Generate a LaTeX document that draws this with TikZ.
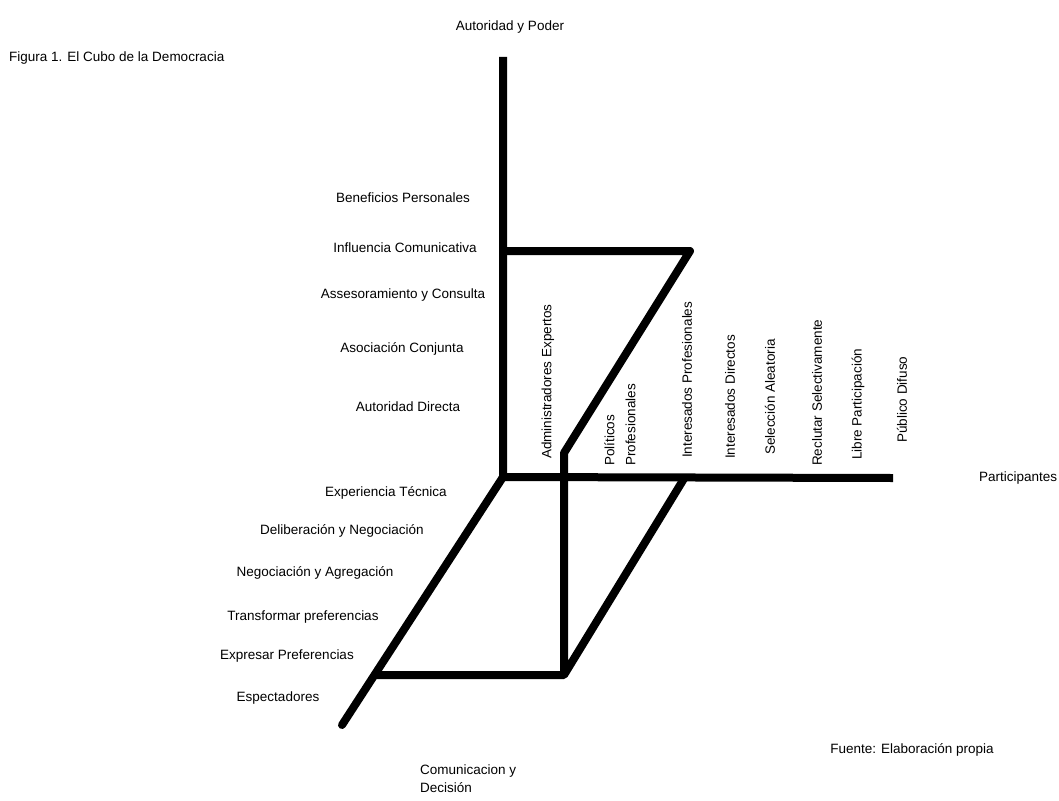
\documentclass[tikz,border=0pt]{standalone}
\usepackage{fontspec}
\setmainfont{Liberation Sans}
\usetikzlibrary{positioning}

\begin{document}
\begin{tikzpicture}[x=1pt,y=-1pt]
        \tikzset{
            axis/.style= {
                draw,
                line width=8pt
            },
            lbl/.style= {
                font=\fontsize{13.5}{16}\selectfont,
                inner sep=1pt
            },
            vlbl/.style= {
                lbl,
                rotate=90,
                anchor=west
            },
        }
\useasboundingbox (0,0) rectangle (1059,800);
%% cube corners
\coordinate (origen) at (503,477);
\coordinate (arriba) at (503,57);
\coordinate (derecha) at (893,478);
\coordinate (frente) at (342,725);
\coordinate (sup_izq) at (503,251);
\coordinate (sup_der) at (690,251);
\coordinate (medio) at (564,453);
\coordinate (inf_der) at (564,675);
\coordinate (inf_izq) at (376,675);
\coordinate (eje_der) at (685,477);
%% titles
        \node [lbl, anchor=west] (titulo) at (8,58)
            {Figura 1. El Cubo de la Democracia};
        \node [lbl] (poder) at (510,27)
            {Autoridad y Poder};
        \node [lbl, anchor=west, right =85pt of derecha] (participantes)
            {Participantes};
        \node [lbl, anchor=north west, align=left] (comunicacion) at (419,764)
            {Comunicacion y\\[2pt]Decisión};
        \node [lbl] (fuente) at (912,750)
            {Fuente: Elaboración propia};
%% vertical axis labels
        \node [lbl] (beneficios) at (403,198) {Beneficios Personales};
        \node [lbl] (influencia) at (405,248) {Influencia Comunicativa};
        \node [lbl] (asesoramiento) at (403,295) {Assesoramiento y Consulta};
        \node [lbl] (asociacion) at (402,349) {Asociación Conjunta};
        \node [lbl] (autoridad) at (408,407) {Autoridad Directa};
%% front axis labels
        \node [lbl] (experiencia) at (386,493) {Experiencia Técnica};
        \node [lbl] (deliberacion) at (342,531) {Deliberación y Negociación};
        \node [lbl] (negociacion) at (315,573) {Negociación y Agregación};
        \node [lbl] (transformar) at (303,617) {Transformar preferencias};
        \node [lbl] (expresar) at (287,656) {Expresar Preferencias};
        \node [lbl] (espectadores) at (278,698) {Espectadores};
%% participant labels
        \node [vlbl] (administradores) at (548,460) {Administradores Expertos};
        \node [vlbl, align=left] (politicos) at (620,467) {Políticos\\[5pt]Profesionales};
        \node [vlbl] (int_prof) at (687,459) {Interesados Profesionales};
        \node [vlbl] (int_dir) at (730,460) {Interesados Directos};
        \node [vlbl] (seleccion) at (770,456) {Selección Aleatoria};
        \node [vlbl] (reclutar) at (817,467) {Reclutar Selectivamente};
        \node [vlbl] (libre) at (858,461) {Libre Participación};
        \node [vlbl] (publico) at (902,444) {Público Difuso};
%% paths
\path[axis]
    (arriba) -- (origen)
    (origen) -- (derecha)
;
\path[axis, line cap=round]
    (origen) -- (frente)
;
\path[axis, line join=round]
    (sup_izq) -- (sup_der) -- (medio) -- (inf_der)
    (inf_izq) -- (inf_der) -- (eje_der)
;
\end{tikzpicture}
\end{document}
